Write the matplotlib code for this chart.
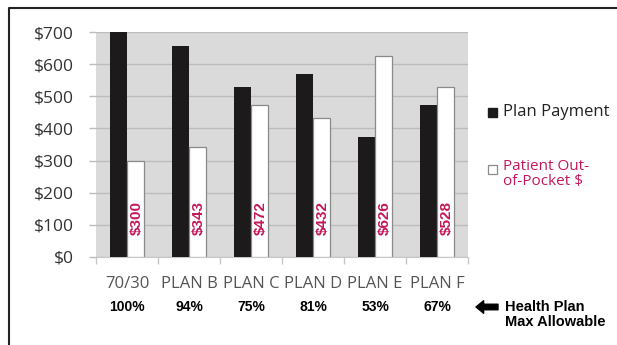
import matplotlib.pyplot as plt
from matplotlib.patches import Rectangle
from matplotlib.lines import Line2D
import numpy as np

# Data
plans = ["70/30", "PLAN B", "PLAN C", "PLAN D", "PLAN E", "PLAN F"]
allowable = ["100%", "94%", "75%", "81%", "53%", "67%"]
plan_payment = [700, 657, 528, 568, 374, 472]
out_of_pocket = [300, 343, 472, 432, 626, 528]
y_ticks = [0, 100, 200, 300, 400, 500, 600, 700]

W, H = 617, 345
magenta = "#c2185b"
tick_font = "Open Sans"

fig = plt.figure(figsize=(W / 100, H / 100), dpi=100)
ax = fig.add_axes([96 / W, (H - 257) / H, 372 / W, 225 / H])
ax.set_facecolor("#dadada")

x = np.arange(len(plans))
bw = 0.28
ax.bar(x - bw / 2, plan_payment, bw, color="#1c1a1a", zorder=3)
ax.bar(x + bw / 2, out_of_pocket, bw, color="white", edgecolor="#8a8a8a",
       linewidth=0.9, zorder=3)

# value labels inside the white bars
for xi, v in zip(x, out_of_pocket):
    ax.text(xi + bw / 2 + 0.025, 68, "$%d" % v, rotation=90, ha="center",
            va="bottom", color=magenta, fontsize=11, fontweight="bold",
            family="Liberation Sans", zorder=4)

ax.set_xlim(-0.5, len(plans) - 0.5)
ax.set_ylim(0, 700)
ax.set_yticks(y_ticks)
ax.set_yticklabels(["$%d" % t for t in y_ticks], fontsize=12.5,
                   family=tick_font, color="#333333")
ax.yaxis.grid(True, color="#bcbcbc", linewidth=1, zorder=0)
ax.tick_params(axis="y", length=5, width=1, color="#bcbcbc", pad=11)

# category boundaries as major ticks, names as minor labels
ax.set_xticks(np.arange(-0.5, len(plans), 1))
ax.set_xticklabels([])
ax.tick_params(axis="x", which="major", length=5, width=1, color="#c8c8c8",
               direction="out")
ax.set_xticks(x, minor=True)
ax.set_xticklabels(plans, minor=True, fontsize=12, family=tick_font,
                   color="#555555")
ax.tick_params(axis="x", which="minor", length=0, pad=14)

for s in ["top", "right", "left"]:
    ax.spines[s].set_visible(False)
ax.spines["bottom"].set_color("#c8c8c8")

# percentages row
for xi, p in zip(x, allowable):
    ax.text(xi, -0.224, p, transform=ax.get_xaxis_transform(), ha="center",
            va="center", fontsize=10, fontweight="bold",
            family="Liberation Sans", color="black")

# legend drawn by hand
fig.patches.append(Rectangle((488 / W, (H - 117) / H), 9 / W, 9 / H,
                             transform=fig.transFigure, facecolor="#1c1a1a",
                             edgecolor="#1c1a1a"))
fig.patches.append(Rectangle((488 / W, (H - 174) / H), 9 / W, 9 / H,
                             transform=fig.transFigure, facecolor="white",
                             edgecolor="#8a8a8a", linewidth=0.9))
fig.text(503 / W, (H - 112) / H, "Plan Payment", fontsize=12,
         family=tick_font, color="#222222", va="center")
fig.text(503 / W, (H - 166) / H, "Patient Out-", fontsize=11,
         family=tick_font, color=magenta, va="center")
fig.text(503 / W, (H - 182) / H, "of-Pocket $", fontsize=11,
         family=tick_font, color=magenta, va="center")

# arrow + note
ax.annotate("", xy=(476, H - 307), xytext=(498, H - 307),
            xycoords="figure pixels", textcoords="figure pixels",
            arrowprops=dict(arrowstyle="simple,head_width=0.9,head_length=0.55,tail_width=0.4",
                            color="black", shrinkA=0, shrinkB=0))
fig.text(505 / W, (H - 307) / H, "Health Plan", fontsize=10.5,
         fontweight="bold", family="Liberation Sans", va="center")
fig.text(505 / W, (H - 322) / H, "Max Allowable", fontsize=10.5,
         fontweight="bold", family="Liberation Sans", va="center")

# outer frame (top and left edges)
fig.lines.append(Line2D([9 / W, 9 / W, 1], [0, (H - 8) / H, (H - 8) / H],
                        transform=fig.transFigure, color="#222222",
                        linewidth=1.5))

fig.savefig("out.png", dpi=100)
